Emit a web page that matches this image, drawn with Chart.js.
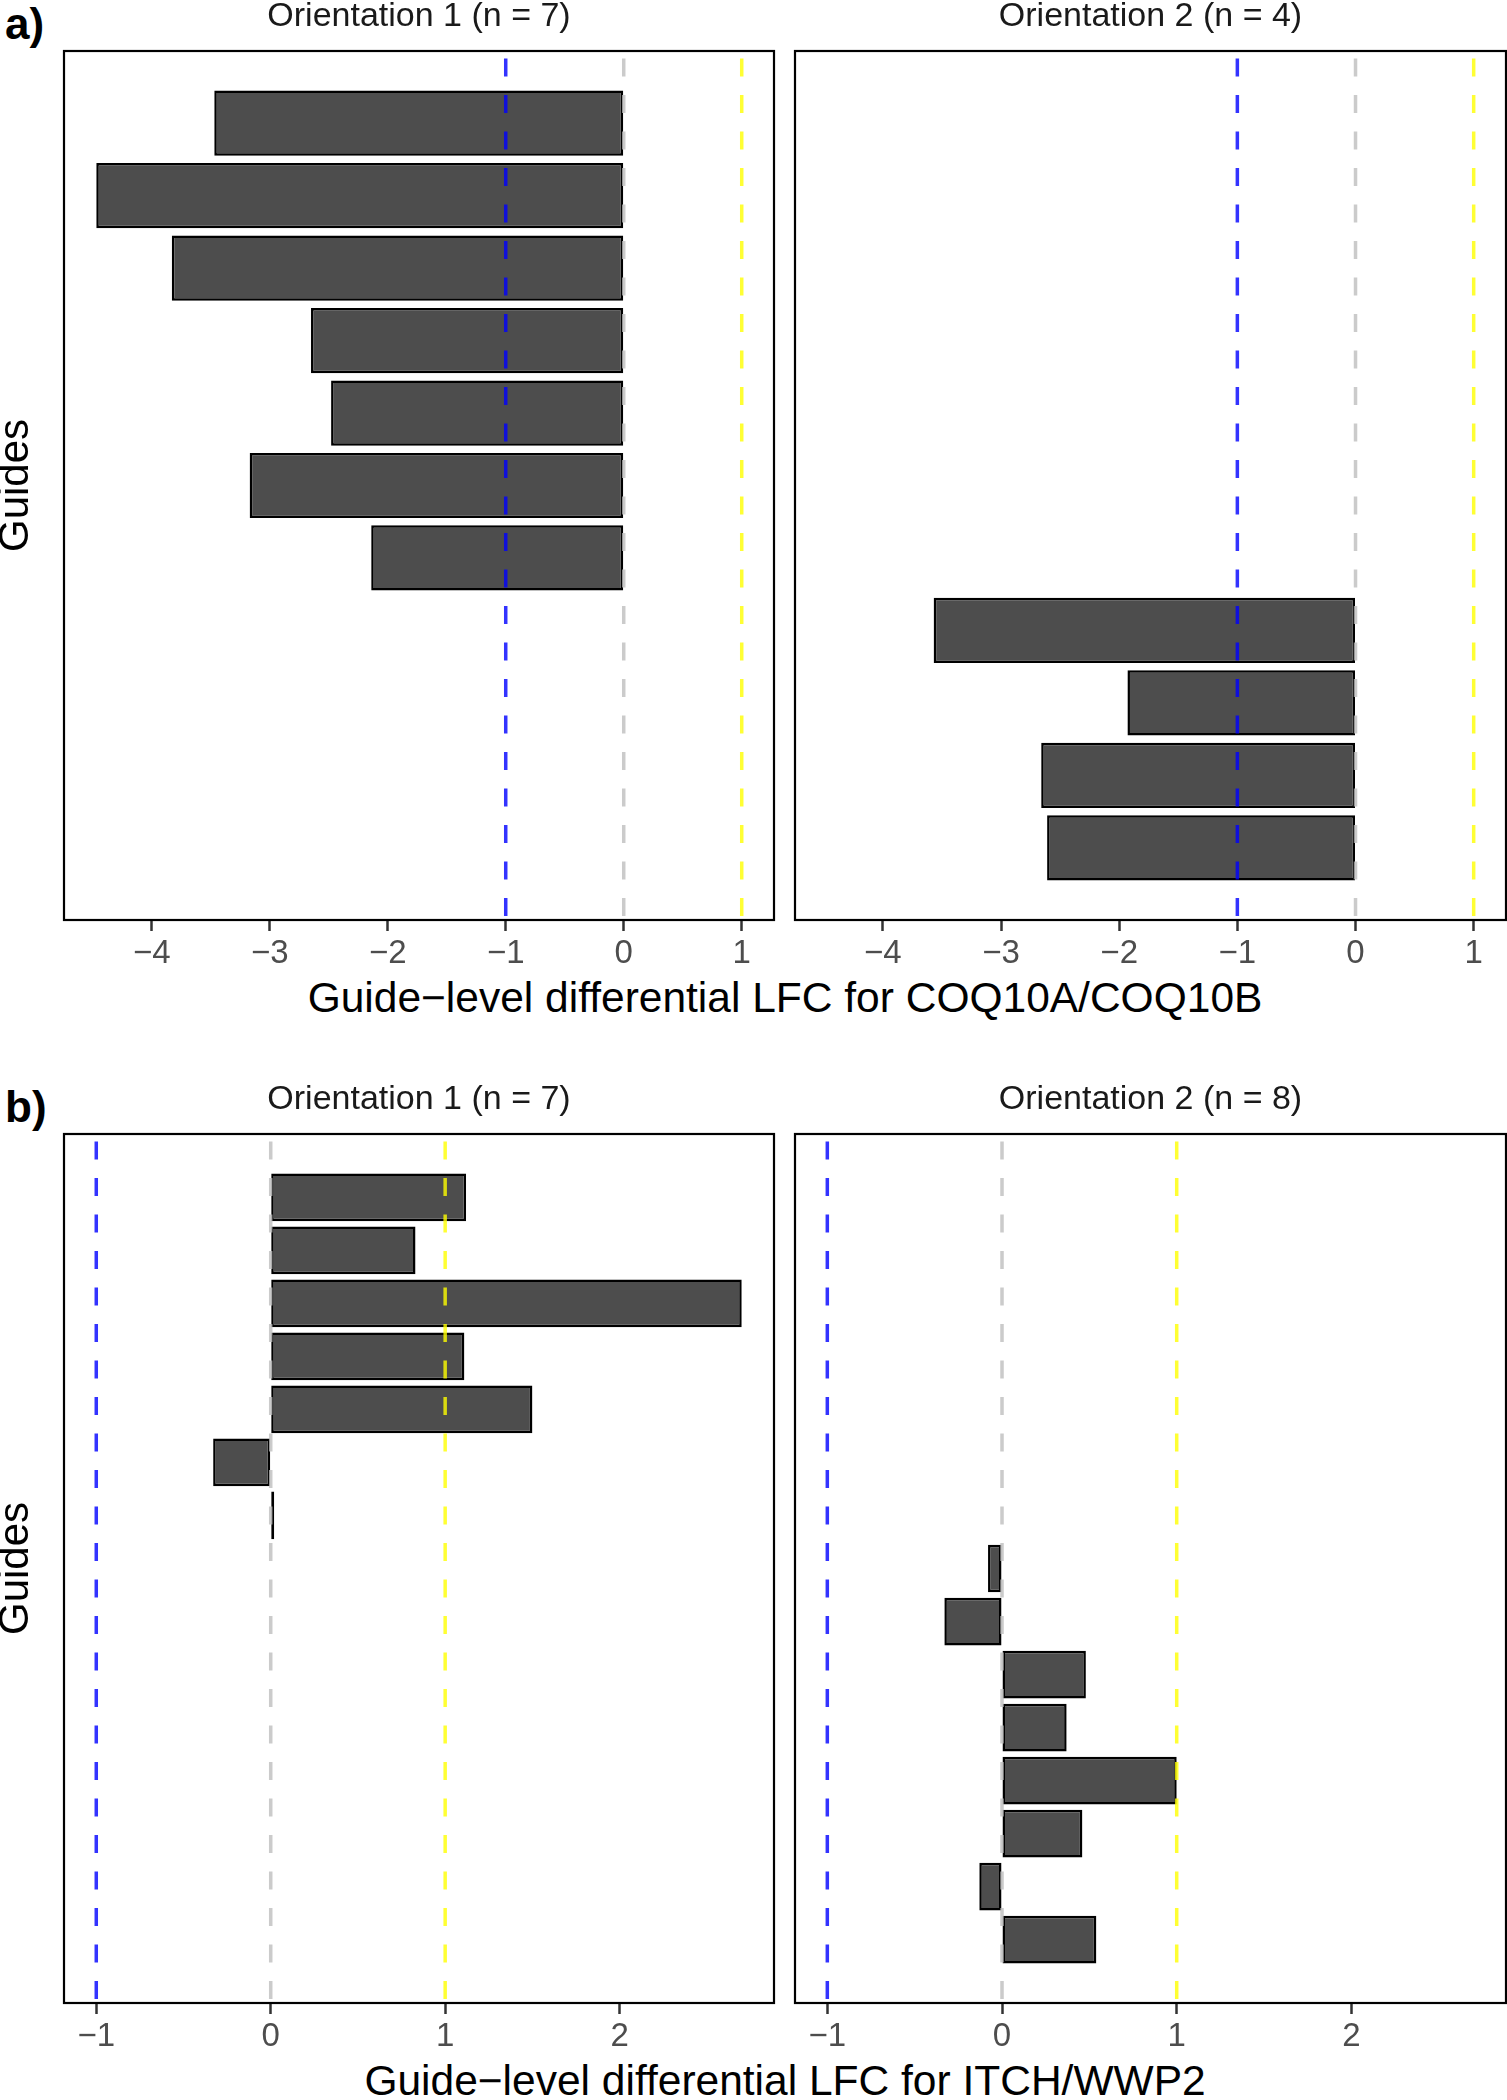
<!DOCTYPE html>
<html>
<head>
<meta charset="utf-8">
<script src="https://cdn.jsdelivr.net/npm/chart.js@4.4.1/dist/chart.umd.min.js"></script>
<style>
  html, body { margin: 0; padding: 0; background: #fff; overflow: hidden; }
  body { position: relative; width: 1507px; height: 2100px; font-family: "Liberation Sans", Arial, sans-serif; }
  canvas { position: absolute; }
  .lbl { position: absolute; white-space: nowrap; color: #000; }
  .tag { font-weight: bold; font-size: 44px; line-height: 44px; left: 5px; }
  .xtitle { font-size: 42.5px; line-height: 42px; width: 1444px; left: 63px; text-align: center; }
</style>
</head>
<body>
<div class="lbl tag" style="top:2px">a)</div>
<div class="lbl tag" style="top:1085px">b)</div>
<div class="lbl xtitle" style="top:977px">Guide−level differential LFC for COQ10A/COQ10B</div>
<div class="lbl xtitle" style="top:2060px">Guide−level differential LFC for ITCH/WWP2</div>

<canvas id="a1" width="790" height="980" style="left:0;top:0"></canvas>
<canvas id="a2" width="745" height="980" style="left:779px;top:0"></canvas>
<canvas id="b1" width="790" height="980" style="left:0;top:1083px"></canvas>
<canvas id="b2" width="745" height="980" style="left:779px;top:1083px"></canvas>

<script>
// guide-level differential LFC, read top to bottom from the figure
const coqOri1 = [-3.47, -4.47, -3.83, -2.65, -2.48, -3.17, -2.14];
const coqOri2 = [-3.57, -1.93, -2.66, -2.61];
const itchOri1 = [1.12, 0.83, 2.70, 1.11, 1.50, -0.33, 0.02];
const itchOri2 = [-0.08, -0.33, 0.48, 0.37, 1.00, 0.46, -0.13, 0.54];

// x tick labels per row
const coqTicks = [-4, -3, -2, -1, 0, 1];
const itchTicks = [-1, 0, 1, 2];

// dashed reference lines (blue / grey / yellow)
const refValues = [-1, 0, 1];
const refColors = ['rgba(0,0,255,0.8)', 'rgba(190,190,190,0.8)', 'rgba(255,255,0,0.8)'];

Chart.defaults.font.family = '"Liberation Sans", Arial, sans-serif';

// ggplot style 5% expansion
function expand(lo, hi, f) {
    var p = (hi - lo) * f;
    return [lo - p, hi + p];
}

function xLimits(a, b) {
    var all = a.concat(b, refValues, [0]);
    return expand(Math.min(...all), Math.max(...all), 0.05);
}

function yLimits(a, b) {
    var n = a.length + b.length;
    return expand(0.55, n + 0.45, 0.05);
}

// panel border drawn around the plot area
const panelBox = {
    id: 'panelBox',
    afterDraw(chart) {
        const {ctx, chartArea: c} = chart;
        ctx.save();
        ctx.strokeStyle = '#000';
        ctx.lineWidth = 2.2;
        ctx.strokeRect(c.left, c.top, c.right - c.left, c.bottom - c.top);
        ctx.restore();
    }
};

function drawPanel(id, vals, first, yLim, xLim, ticks, title, leftPanel) {
    const bars = vals.map((v, i) => ({x: v, y: first + i}));
    const datasets = [{
        type: 'bar',
        indexAxis: 'y',
        order: 2,
        data: bars,
        backgroundColor: '#4D4D4D',
        borderColor: '#000',
        borderWidth: 2.5,
        borderSkipped: false,
        categoryPercentage: 1,
        barPercentage: 0.9
    }];
    refValues.forEach((r, k) => {
        datasets.push({
            type: 'line',
            indexAxis: 'y',
            order: 1,
            data: [{x: r, y: yLim[0]}, {x: r, y: yLim[1]}],
            borderColor: refColors[k],
            borderWidth: 3.5,
            borderDash: [18, 18.5],
            borderDashOffset: 29,
            pointRadius: 0,
            fill: false
        });
    });

    new Chart(document.getElementById(id), {
        data: {datasets: datasets},
        options: {
            indexAxis: 'y',
            responsive: false,
            animation: false,
            layout: {padding: leftPanel ? {left: 0, right: 16} : {left: 16, right: 18}},
            plugins: {
                legend: {display: false},
                tooltip: {enabled: false},
                title: {
                    display: true,
                    text: title,
                    fullSize: false,
                    color: '#1A1A1A',
                    font: {size: 34, weight: 'normal', lineHeight: 1},
                    padding: {top: 0, bottom: 17}
                }
            },
            scales: {
                x: {
                    type: 'linear',
                    min: xLim[0],
                    max: xLim[1],
                    afterBuildTicks: s => { s.ticks = ticks.map(v => ({value: v})); },
                    afterFit: s => { s.height = 60; },
                    ticks: {
                        autoSkip: false,
                        maxRotation: 0,
                        color: '#4D4D4D',
                        font: {size: 33},
                        padding: 3,
                        callback: v => (v < 0 ? '\u2212' + Math.abs(v) : String(v))
                    },
                    grid: {drawOnChartArea: false, drawTicks: true, tickLength: 11, tickWidth: 2.5, tickColor: '#333'},
                    border: {display: false}
                },
                y: {
                    type: 'linear',
                    reverse: true,
                    offset: false,
                    min: yLim[0],
                    max: yLim[1],
                    display: leftPanel,
                    afterFit: s => { if (leftPanel) s.width = 64; },
                    ticks: {display: false, stepSize: 1, includeBounds: false},
                    grid: {display: false, drawTicks: false, offset: false},
                    border: {display: false},
                    title: {
                        display: leftPanel,
                        text: 'Guides',
                        color: '#000',
                        font: {size: 42, lineHeight: 0.8},
                        padding: 0
                    }
                }
            }
        },
        plugins: [panelBox]
    });
}

// row a: COQ10A/COQ10B
var xA = xLimits(coqOri1, coqOri2);
var yA = yLimits(coqOri1, coqOri2);
drawPanel('a1', coqOri1, 1, yA, xA, coqTicks, 'Orientation 1 (n = ' + coqOri1.length + ')', true);
drawPanel('a2', coqOri2, coqOri1.length + 1, yA, xA, coqTicks, 'Orientation 2 (n = ' + coqOri2.length + ')', false);

// row b: ITCH/WWP2
var xB = xLimits(itchOri1, itchOri2);
var yB = yLimits(itchOri1, itchOri2);
drawPanel('b1', itchOri1, 1, yB, xB, itchTicks, 'Orientation 1 (n = ' + itchOri1.length + ')', true);
drawPanel('b2', itchOri2, itchOri1.length + 1, yB, xB, itchTicks, 'Orientation 2 (n = ' + itchOri2.length + ')', false);
</script>
</body>
</html>
